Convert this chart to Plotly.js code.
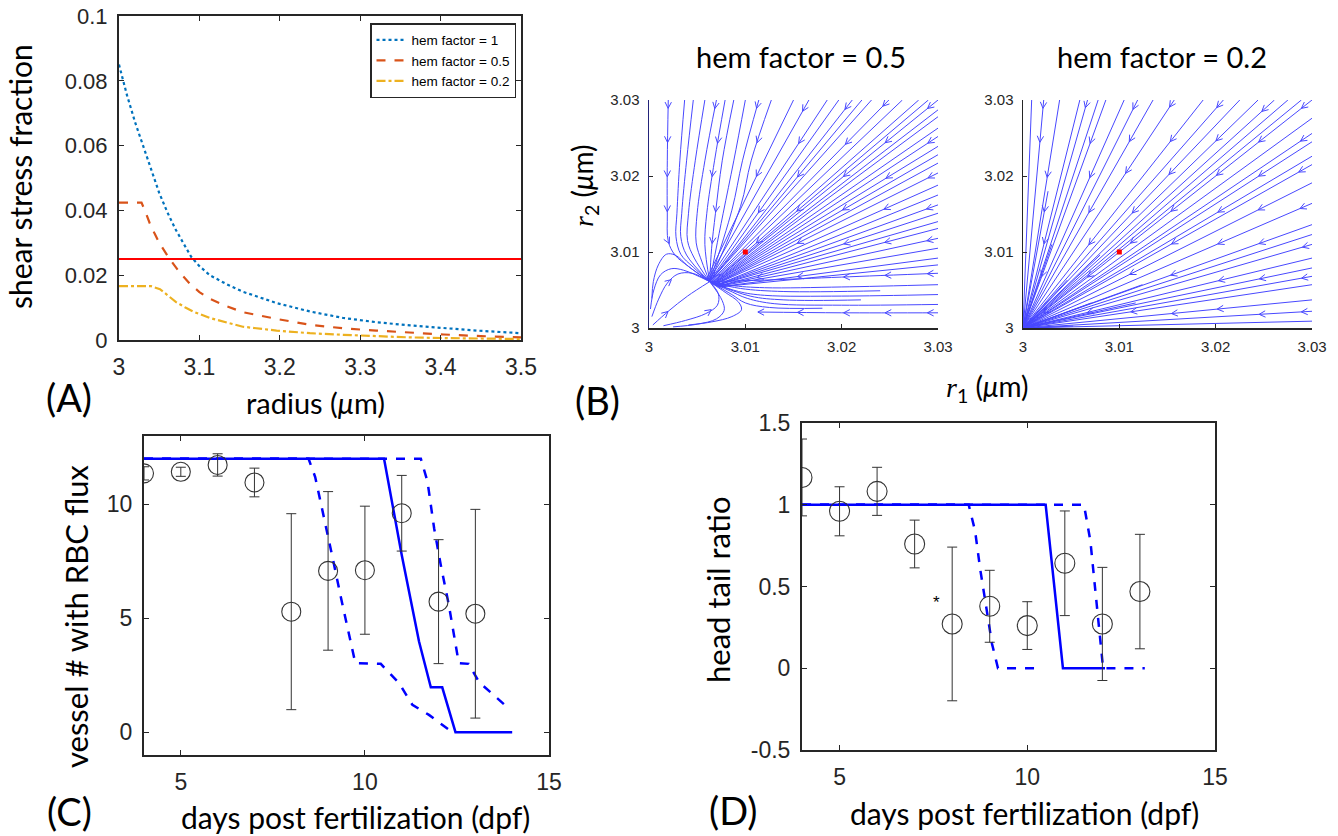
<!DOCTYPE html>
<html><head><meta charset="utf-8">
<script src="https://cdn.plot.ly/plotly-3.0.1.min.js"></script>
<style>html,body{margin:0;padding:0;background:#fff}#chart{width:1338px;height:836px}</style>
</head><body><div id="chart"></div>
<script>
// ---------------- Panel A: shear stress fraction vs radius ----------------
const radHem1  = [3.00,3.01,3.02,3.03,3.04,3.05,3.06,3.07,3.08,3.09,3.10,3.113,3.134,3.154,3.196,3.2375,3.279,3.32,3.362,3.404,3.445,3.5];
const ssfHem1  = [0.085,0.0755,0.0672,0.0600,0.0522,0.0454,0.0395,0.0343,0.0299,0.0256,0.0228,0.0200,0.0172,0.0149,0.0114,0.0088,0.0068,0.0055,0.0045,0.0036,0.0029,0.0021];
const radHem05 = [3.0,3.028,3.033,3.038,3.044,3.05,3.063,3.075,3.088,3.10,3.113,3.134,3.154,3.196,3.2375,3.279,3.32,3.362,3.404,3.45,3.5];
const ssfHem05 = [0.0424,0.0424,0.0395,0.0362,0.0330,0.0300,0.0250,0.0210,0.0174,0.0148,0.0127,0.0104,0.0086,0.0065,0.0047,0.0036,0.0029,0.0022,0.0017,0.0012,0.0008];
const radHem02 = [3.0,3.040,3.051,3.061,3.071,3.082,3.092,3.113,3.134,3.154,3.196,3.2375,3.279,3.32,3.362,3.404,3.45,3.5];
const ssfHem02 = [0.0166,0.0166,0.0157,0.0137,0.0117,0.0101,0.0088,0.0068,0.0053,0.0041,0.0029,0.0021,0.0016,0.0011,0.0008,0.0006,0.0004,0.0003];
const thresholdR = [3.0, 3.5];
const thresholdV = [0.025, 0.025];
const legendNames = ['hem factor = 1','hem factor = 0.5','hem factor = 0.2'];

// ---------------- Panel B: streamlines (offsets from 3 µm, in 0.001 µm) ----------------
const stream05 = [
  [[2.0,30],[1.9,22],[1.9,15],[2.0,11.4],[2.7,9.6],[4.1,8.1],[6.3,6.1]],
  [[3.7,30],[3.2,22],[2.9,15.1],[2.8,12.0],[3.3,9.7],[4.6,8.0],[6.3,6.1]],
  [[4.6,30],[3.9,22],[3.4,15.1],[3.3,12.0],[3.9,9.6],[6.3,6.1]],
  [[5.8,30],[4.8,22],[4.1,15.1],[4.0,11.5],[4.7,9.2],[6.3,6.1]],
  [[7.0,30],[5.8,22],[5.0,15.1],[4.9,11.2],[5.5,8.7],[6.3,6.1]],
  [[7.9,30],[6.8,22],[6.0,15.1],[5.8,11.0],[6.3,6.1]],
  [[8.8,30],[7.6,22],[6.9,15.1],[6.5,10.5],[6.3,6.1]],
  [[10.0,30],[8.8,22],[7.7,15.1],[6.9,10.0],[6.3,6.1]],
  [[11.4,30],[9.7,22],[8.6,15.5],[6.3,6.1]],
  [[12.7,30],[10.6,22],[9.5,16.0],[6.3,6.1]],
  [[15.0,30],[6.0,6.5]],[[16.6,30],[6.1,6.4]],[[18.5,30],[6.2,6.3]],[[19.7,30],[6.3,6.2]],
  [[21.1,30],[6.3,6.1]],[[22.1,30],[6.3,6.1]],[[23.1,30],[6.3,6.1]],[[24.9,30],[6.4,6.1]],
  [[26.3,30],[6.4,6.0]],[[28.0,30],[6.5,6.0]],[[29.0,30],[6.5,5.9]],[[30,30],[6.5,5.9]],
  [[30,28.7],[6.6,5.9]],[[30,27.8],[6.6,5.8]],[[30,26.3],[6.6,5.8]],[[30,25.2],[6.7,5.8]],
  [[30,23.9],[6.7,5.8]],[[30,22.8],[6.7,5.7]],[[30,21.7],[6.8,5.7]],[[30,20.4],[6.8,5.7]],
  [[30,18.8],[6.8,5.7]],[[30,17.5],[6.9,5.6]],[[30,16.2],[6.9,5.6]],[[30,15.1],[7.0,5.6]],
  [[30,14.0],[7.0,5.6]],[[30,13.1],[7.1,5.5]],[[30,11.8],[7.1,5.5]],[[30,10.5],[7.2,5.5]],
  [[30,9.2],[7.2,5.4]],[[30,8.3],[7.3,5.4]],
  [[30,7.2],[20,6.7],[12,6.3],[6.3,6.1]],
  [[30,5.7],[20,5.4],[12,5.3],[8.5,5.6],[6.3,6.1]],
  [[30,4.4],[20,4.2],[12,4.3],[9.3,4.8],[6.3,6.1]],
  [[30,3.1],[20,3.0],[13,3.2],[10.2,3.9],[8.2,5.0],[6.3,6.1]],
  [[30,2.0],[20,2.0],[11.3,2.1]],
  [[18,2.6],[12.5,2.7],[10,3.3],[8.6,4.4],[6.3,6.1]],
  [[22,3.7],[14,3.7],[10.5,4.2],[6.3,6.1]],
  [[24,4.9],[14,4.8],[9.5,5.2],[6.3,6.1]],
  [[4.1,0.4],[6.5,0.8],[8.6,1.5],[9.6,2.4],[9.3,3.4],[7.9,4.7],[6.3,6.1]],
  [[0.3,3.9],[0.45,6.1],[0.97,8.3],[1.8,9.7],[2.7,9.6],[4.1,8.1],[6.3,6.1]],
  [[0.15,2.5],[0.5,5.0],[1.2,7.0],[2.3,7.8],[3.6,7.6],[6.3,6.1]],
  [[2.5,0.15],[5.0,0.5],[7.0,1.2],[7.8,2.3],[7.6,3.6],[6.3,6.1]],
  [[0.3,1.5],[1.0,3.8],[1.9,5.9],[3.0,7.1],[4.5,7.2],[6.3,6.1]],
  [[0.4,0.4],[2.0,2.2],[4.0,4.2],[6.3,6.1]],
  [[1.5,0.3],[3.8,1.0],[5.9,1.9],[7.1,3.0],[7.2,4.5],[6.3,6.1]]
];
const stream02TopX   = [0.9,2.15,3.8,5.9,6.7,7.8,8.6,10.5,11.9,13.5,15.7,18.7,20.8,22.5,24.4,26.1,27.5,28.9];
const stream02RightY = [30,27.6,25.6,24.5,22.6,21.5,19.1,16.4,13.6,12.3,11.0,9.2,7.9,6.8,5.7,3.7,2.2,0.9];
const stream02Inner  = [[5.2,0.25],[7.1,3.3],[11.7,3.3],[12.4,5.7],[4.6,6.3],[8.0,9.6],[3.0,11.0],[2.6,18.0]];
const sink02 = [0,0];
const arrowGridX = [2.1,6.7,11.2,15.4,20.2,24.5,28.9];
const arrowGridY = [28.9,24.4,19.9,15.3,11.1,6.7,2.0];
const fixedPtX = [3.01], fixedPtY = [3.01];
const bTicks = [3,3.01,3.02,3.03], bTickText = ['3','3.01','3.02','3.03'];

// ---------------- Panel C: vessel # with RBC flux ----------------
const cDays = [4,5,6,7,8,9,10,11,12,13];
const cMean = [11.36,11.43,11.73,10.96,5.29,7.08,7.11,9.61,5.73,5.20];
const cErr  = [0.29,0.20,0.49,0.63,4.30,3.48,2.81,1.66,2.72,4.58];
const cSolidX = [4,10.52,11.0,11.47,11.79,12.1,12.46,14.0];
const cSolidY = [12,12,7.78,3.98,1.97,1.97,0,0];
const cDashLoX = [4,8.47,8.65,8.9,9.13,9.35,9.55,9.74,10.43,10.93,11.29,11.74,12.37];
const cDashLoY = [12,12,11.2,9.4,7.6,5.9,4.4,3.03,3.0,2.15,1.2,0.76,0];
const cDashHiX = [4,11.52,11.7,11.88,12.06,12.28,12.55,12.82,13.1,13.95];
const cDashHiY = [12,12,11.0,8.95,7.34,5.58,3.03,3.0,2.2,0.98];

// ---------------- Panel D: head tail ratio ----------------
const dDays = [4,5,6,7,8,9,10,11,12,13];
const dMean = [1.167,0.96,1.082,0.76,0.271,0.379,0.261,0.642,0.271,0.469];
const dErr  = [0.235,0.15,0.147,0.146,0.47,0.22,0.146,0.32,0.346,0.35];
const dSolidX = [4,10.49,10.95,12.07];
const dSolidY = [1,1,0,0];
const dDashLoX = [4,8.44,8.61,8.75,8.91,9.06,9.22,10.23];
const dDashLoY = [1,1,0.84,0.6,0.37,0.15,0,0];
const dDashHiX = [4,11.51,11.68,11.85,12.02,13.13];
const dDashHiY = [1,1,0.78,0.37,0,0];
const starPos = [7.59, 0.40];

// ---------------- layout helpers ----------------
const W = 1338, H = 836;
const px = x => x / W, py = y => 1 - y / H;
const boxA  = {l:119, r:521, t:16,  b:340};
const boxB1 = {l:649, r:938, t:100, b:328};
const boxB2 = {l:1023,r:1312,t:100, b:328};
const boxC  = {l:144, r:549, t:436, b:755};
const boxD  = {l:802, r:1215,t:423, b:750};
const ink = '#262626';
const streamColor = 'rgb(72,72,255)';

function buildStream(lines, box) {
  const kx = (box.r - box.l) / 30, ky = (box.b - box.t) / 30; // px per 0.001 µm
  const X = [], Y = [];
  lines.forEach(l => { l.forEach(p => { X.push(3 + p[0]/1000); Y.push(3 + p[1]/1000); }); X.push(null); Y.push(null); });
  const AX = [], AY = [];
  const Lh = 7, ang = 27 * Math.PI / 180, c = Math.cos(ang), s = Math.sin(ang);
  arrowGridX.forEach(gx => arrowGridY.forEach(gy => {
    const gxp = gx * kx, gyp = gy * ky;
    let best = null;
    lines.forEach(l => {
      for (let i = 0; i < l.length - 1; i++) {
        const ax = l[i][0]*kx, ay = l[i][1]*ky, bx = l[i+1][0]*kx, by = l[i+1][1]*ky;
        const dx = bx - ax, dy = by - ay, L2 = dx*dx + dy*dy;
        if (!L2) continue;
        let t = ((gxp-ax)*dx + (gyp-ay)*dy) / L2; t = Math.max(0, Math.min(1, t));
        const qx = ax + t*dx, qy = ay + t*dy, d = Math.hypot(qx-gxp, qy-gyp);
        if (!best || d < best.d) { const L = Math.sqrt(L2); best = {d, qx, qy, ux: dx/L, uy: dy/L}; }
      }
    });
    if (best && best.d < 18) {
      const {qx, qy, ux, uy} = best;
      const w1x = qx - Lh*(c*ux - s*uy), w1y = qy - Lh*(c*uy + s*ux);
      const w2x = qx - Lh*(c*ux + s*uy), w2y = qy - Lh*(c*uy - s*ux);
      [[w1x,w1y],[qx,qy],[w2x,w2y]].forEach(p => { AX.push(3 + p[0]/kx/1000); AY.push(3 + p[1]/ky/1000); });
      AX.push(null); AY.push(null);
    }
  }));
  return {X, Y, AX, AY};
}

const lines02 = [];
stream02TopX.forEach(x => lines02.push([[x,30], sink02]));
stream02RightY.forEach(y => lines02.push([[30,y], sink02]));
stream02Inner.forEach(p => lines02.push([p, sink02]));
const s05 = buildStream(stream05, boxB1);
const s02 = buildStream(lines02, boxB2);

const traces = [
  {x: radHem1, y: ssfHem1, xaxis:'x', yaxis:'y', mode:'lines', name: legendNames[0], line:{color:'#0072BD', width:2.2, dash:'dot'}},
  {x: radHem05, y: ssfHem05, xaxis:'x', yaxis:'y', mode:'lines', name: legendNames[1], line:{color:'#D95319', width:2.2, dash:'dash'}},
  {x: radHem02, y: ssfHem02, xaxis:'x', yaxis:'y', mode:'lines', name: legendNames[2], line:{color:'#EDB120', width:2.2, dash:'dashdot'}},
  {x: thresholdR, y: thresholdV, xaxis:'x', yaxis:'y', mode:'lines', showlegend:false, line:{color:'#FF0000', width:2}},

  {x: s05.X, y: s05.Y, xaxis:'x2', yaxis:'y2', mode:'lines', showlegend:false, line:{color:streamColor, width:1, shape:'spline', smoothing:1}, connectgaps:false},
  {x: s05.AX, y: s05.AY, xaxis:'x2', yaxis:'y2', mode:'lines', showlegend:false, line:{color:streamColor, width:1}, connectgaps:false},
  {x: fixedPtX, y: fixedPtY, xaxis:'x2', yaxis:'y2', mode:'markers', showlegend:false, marker:{symbol:'square', size:5, color:'#FF0000'}},
  {x: s02.X, y: s02.Y, xaxis:'x3', yaxis:'y3', mode:'lines', showlegend:false, line:{color:streamColor, width:1}, connectgaps:false},
  {x: s02.AX, y: s02.AY, xaxis:'x3', yaxis:'y3', mode:'lines', showlegend:false, line:{color:streamColor, width:1}, connectgaps:false},
  {x: fixedPtX, y: fixedPtY, xaxis:'x3', yaxis:'y3', mode:'markers', showlegend:false, marker:{symbol:'square', size:5, color:'#FF0000'}},

  {x: cSolidX, y: cSolidY, xaxis:'x4', yaxis:'y4', mode:'lines', showlegend:false, line:{color:'#0000FF', width:2.5}},
  {x: cDashLoX, y: cDashLoY, xaxis:'x4', yaxis:'y4', mode:'lines', showlegend:false, line:{color:'#0000FF', width:2.5, dash:'dash'}},
  {x: cDashHiX, y: cDashHiY, xaxis:'x4', yaxis:'y4', mode:'lines', showlegend:false, line:{color:'#0000FF', width:2.5, dash:'dash'}},
  {x: cDays, y: cMean, xaxis:'x4', yaxis:'y4', mode:'markers', showlegend:false,
   marker:{symbol:'circle-open', size:19, color:'#333', line:{width:1.1}},
   error_y:{type:'data', array:cErr, color:'#333', thickness:1, width:5}},

  {x: dSolidX, y: dSolidY, xaxis:'x5', yaxis:'y5', mode:'lines', showlegend:false, line:{color:'#0000FF', width:2.5}},
  {x: dDashLoX, y: dDashLoY, xaxis:'x5', yaxis:'y5', mode:'lines', showlegend:false, line:{color:'#0000FF', width:2.5, dash:'dash'}},
  {x: dDashHiX, y: dDashHiY, xaxis:'x5', yaxis:'y5', mode:'lines', showlegend:false, line:{color:'#0000FF', width:2.5, dash:'dash'}},
  {x: dDays, y: dMean, xaxis:'x5', yaxis:'y5', mode:'markers', showlegend:false,
   marker:{symbol:'circle-open', size:20, color:'#333', line:{width:1.1}},
   error_y:{type:'data', array:dErr, color:'#333', thickness:1, width:5}}
];

function boxAxis(box, horiz, range, tickvals, ticktext, size, mirror, standoff) {
  return {
    domain: horiz ? [px(box.l), px(box.r)] : [py(box.b), py(box.t)],
    range: range, tickvals: tickvals, ticktext: ticktext,
    ticks: 'inside', ticklen: mirror ? 5 : 4, tickwidth: 1, tickcolor: ink,
    showline: true, linewidth: mirror ? 2 : 1.5, linecolor: ink,
    mirror: mirror ? 'allticks' : false, showgrid: false, zeroline: false,
    tickfont: {family: 'Liberation Sans, Arial, sans-serif', size: size, color: ink},
    ticklabelstandoff: standoff, fixedrange: true
  };
}

const layout = {
  width: W, height: H, margin: {l:0, r:0, t:0, b:0},
  paper_bgcolor: '#fff', plot_bgcolor: '#fff', showlegend: true,
  legend: {x: px(516), y: py(23), xanchor:'right', yanchor:'top', bgcolor:'#fff',
           bordercolor: ink, borderwidth: 1.5, itemwidth: 30, tracegroupgap: 0,
           font: {family:'Liberation Sans, Arial, sans-serif', size: 13.5, color:'#000'}},
  xaxis:  Object.assign(boxAxis(boxA, true, [3,3.5], [3,3.1,3.2,3.3,3.4,3.5], ['3','3.1','3.2','3.3','3.4','3.5'], 23, true, 5), {anchor:'y'}),
  yaxis:  Object.assign(boxAxis(boxA, false, [0,0.1], [0,0.02,0.04,0.06,0.08,0.1], ['0','0.02','0.04','0.06','0.08','0.1'], 22, true, 5), {anchor:'x'}),
  xaxis2: Object.assign(boxAxis(boxB1, true, [3,3.03], bTicks, bTickText, 15, false, 4), {anchor:'y2'}),
  yaxis2: Object.assign(boxAxis(boxB1, false, [3,3.03], bTicks, bTickText, 15, false, 5), {anchor:'x2', linecolor:'#23237a'}),
  xaxis3: Object.assign(boxAxis(boxB2, true, [3,3.03], bTicks, bTickText, 15, false, 4), {anchor:'y3'}),
  yaxis3: Object.assign(boxAxis(boxB2, false, [3,3.03], bTicks, bTickText, 15, false, 5), {anchor:'x3'}),
  xaxis4: Object.assign(boxAxis(boxC, true, [4,15], [5,10,15], ['5','10','15'], 23, true, 5), {anchor:'y4'}),
  yaxis4: Object.assign(boxAxis(boxC, false, [-1,13], [0,5,10], ['0','5','10'], 23, true, 5), {anchor:'x4'}),
  xaxis5: Object.assign(boxAxis(boxD, true, [4,15], [5,10,15], ['5','10','15'], 23, true, 5), {anchor:'y5'}),
  yaxis5: Object.assign(boxAxis(boxD, false, [-0.5,1.5], [-0.5,0,0.5,1,1.5], ['-0.5','0','0.5','1','1.5'], 23, true, 5), {anchor:'x5'}),
  annotations: []
};

const LATO = 'Lato, Open Sans, sans-serif';
function note(text, x, y, size, angle) {
  layout.annotations.push({text: text, xref:'paper', yref:'paper', x: px(x), y: py(y),
    xanchor:'center', yanchor:'middle', showarrow:false, textangle: angle || 0,
    font: {family: LATO, size: size, color:'#000'}});
}
note('(A)', 69, 397, 38);
note('(B)', 597, 400, 38);
note('(C)', 69, 811, 38);
note('(D)', 733, 810, 38);
note('shear stress fraction', 20, 177, 30, -90);
note('radius (<i>μ</i>m)', 315, 402, 29);
note('hem factor = 0.5', 801, 57, 29);
note('hem factor = 0.2', 1162, 57, 29);
note('<span style="font-family:Liberation Serif;font-style:italic">r</span><sub>1</sub> (<i>μ</i>m)', 988, 388, 28);
note('<span style="font-family:Liberation Serif;font-style:italic">r</span><sub>2</sub> (<i>μ</i>m)', 584, 186, 28, -90);
note('vessel # with RBC flux', 76, 617, 31, -90);
note('days post fertilization (dpf)', 355, 817, 30);
note('head tail ratio', 718, 590, 31, -90);
note('days post fertilization (dpf)', 1024, 813, 30);
layout.annotations.push({text:'*', xref:'x5', yref:'y5', x: starPos[0], y: starPos[1], showarrow:false,
  font:{family:'Liberation Sans, Arial, sans-serif', size:17, color:'#000'}});

Plotly.newPlot('chart', traces, layout, {staticPlot:true, displayModeBar:false});
</script></body></html>
